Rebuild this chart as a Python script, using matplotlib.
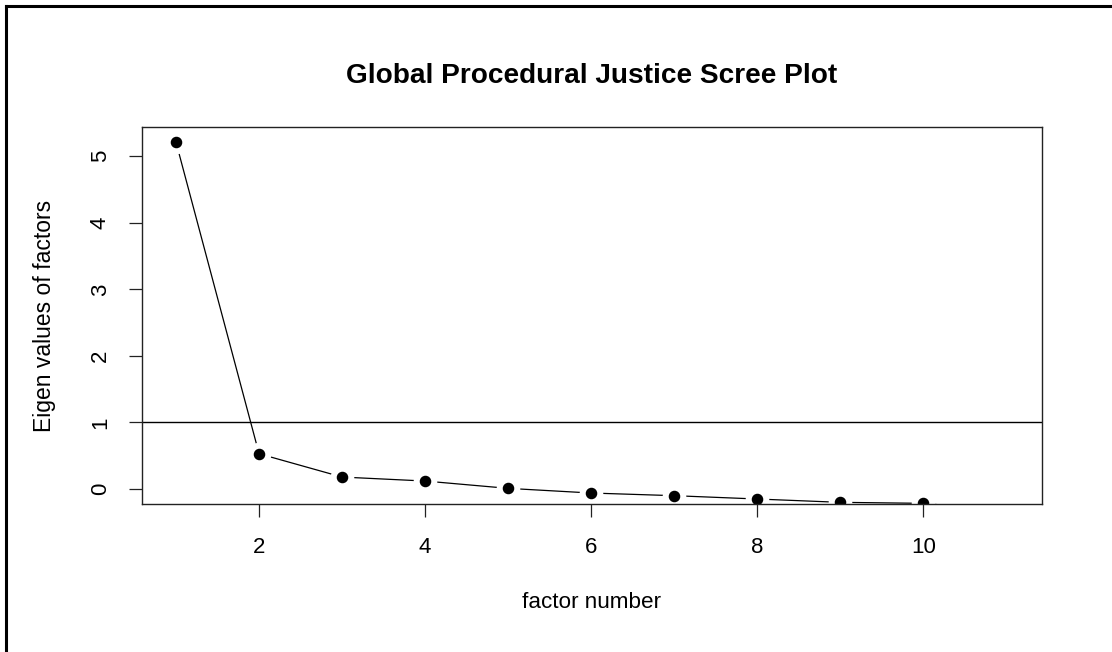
import matplotlib
matplotlib.use("Agg")
import matplotlib.pyplot as plt
from matplotlib.lines import Line2D

# scree plot values
factor_number = [1, 2, 3, 4, 5, 6, 7, 8, 9, 10, 11]
eigen_values = [5.21, 0.53, 0.18, 0.12, 0.01, -0.06, -0.10, -0.15, -0.20, -0.215, -0.33]
cutoff = 1
x_ticks = [2, 4, 6, 8, 10]
y_ticks = [0, 1, 2, 3, 4, 5]

title = "Global Procedural Justice Scree Plot"
x_label = "factor number"
y_label = "Eigen values of factors"

plt.rcParams['font.family'] = ['Liberation Sans', 'DejaVu Sans']

fig = plt.figure(figsize=(11.12, 6.52), dpi=100)
ax = fig.add_axes([142 / 1112, 1 - 504 / 652, 900 / 1112, 377 / 652])

# R style type="b": line with gaps around the points
ax.plot(factor_number, eigen_values, color='black', lw=0.9, zorder=2)
ax.plot(factor_number, eigen_values, ls='none', marker='o', ms=17,
        mfc='white', mec='none', zorder=2.1)
ax.plot(factor_number, eigen_values, ls='none', marker='o', ms=7.3,
        mfc='black', mec='black', zorder=2.2)
ax.axhline(cutoff, color='black', lw=1.0, zorder=2.3)

ax.set_xlim(0.59, 11.43)
ax.set_ylim(-0.225, 5.44)
ax.set_xticks(x_ticks)
ax.set_yticks(y_ticks)
ax.tick_params(axis='both', length=9.5, width=0.9, color='#222222', labelsize=16)
ax.tick_params(axis='x', pad=14.5)
ax.tick_params(axis='y', pad=13)
for lab in ax.get_yticklabels():
    lab.set_rotation(90)
    lab.set_va('center')
for s in ax.spines.values():
    s.set_color('#222222')
    s.set_linewidth(1.0)
    s.set_zorder(3)

ax.set_title(title, fontsize=20.2, fontweight='bold', pad=32)
ax.set_xlabel(x_label, fontsize=16.2)
ax.set_ylabel(y_label, fontsize=16.5)
ax.xaxis.label.set_va('center')
ax.xaxis.set_label_coords(0.5, (504 - 603) / 377)
ax.yaxis.label.set_va('center')
ax.yaxis.set_label_coords((45 - 142) / 900, 0.5)

# outer frame of the screenshot (left and top edges)
fig.add_artist(Line2D([6 / 1112, 6 / 1112], [0, 1 - 6 / 652], color='black', lw=2.2))
fig.add_artist(Line2D([6 / 1112, 1], [1 - 6 / 652, 1 - 6 / 652], color='black', lw=2.2))

fig.savefig('out.png', dpi=100)
